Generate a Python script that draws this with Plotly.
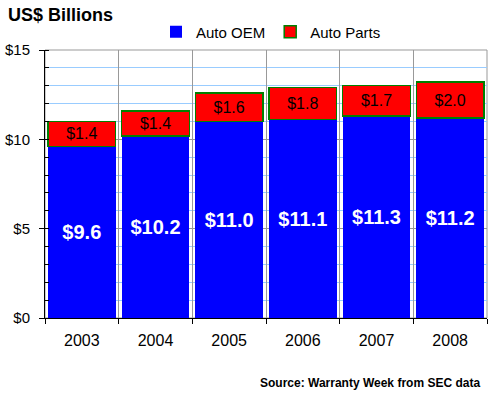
import plotly.graph_objects as go

years = ["2003", "2004", "2005", "2006", "2007", "2008"]
auto_oem = [9.6, 10.2, 11.0, 11.1, 11.3, 11.2]
auto_parts = [1.4, 1.4, 1.6, 1.8, 1.7, 2.0]
y_ticks = [0, 5, 10, 15]
y_tick_labels = ["$0", "$5", "$10", "$15"]

FONT = "Arial, Liberation Sans, sans-serif"

fig = go.Figure()
fig.add_trace(go.Bar(
    x=years, y=auto_oem, name="Auto OEM",
    marker=dict(color="#0000FF", line=dict(width=0)),
    texttemplate="$%{y:.1f}", textposition="inside", insidetextanchor="middle",
    textangle=0,
    textfont=dict(color="white", size=20, family=FONT, weight="bold"),
    hoverinfo="skip",
))
fig.add_trace(go.Bar(
    x=years, y=auto_parts, name="Auto Parts",
    marker=dict(color="#FF0000", line=dict(color="#008000", width=1.5)),
    texttemplate="$%{y:.1f}", textposition="inside", insidetextanchor="middle",
    textangle=0,
    textfont=dict(color="black", size=16, family=FONT),
    hoverinfo="skip",
))

fig.update_layout(
    barmode="stack",
    bargap=0.08,
    width=500, height=395,
    margin=dict(l=45, r=13, t=50, b=77, autoexpand=False),
    paper_bgcolor="white", plot_bgcolor="white",
    font=dict(family=FONT, color="black", size=15),
    title=dict(text="<b>US$ Billions</b>", x=0.016, xanchor="left", xref="container",
               y=1 - 15 / 395, yanchor="middle", yref="container",
               font=dict(size=18, family=FONT, color="black")),
    legend=dict(orientation="h", x=0.5 + 5 / 442, xanchor="center", y=1.067, yanchor="middle",
                traceorder="normal",
                font=dict(size=15, family=FONT), bgcolor="rgba(0,0,0,0)",
                itemclick=False, itemdoubleclick=False),
    xaxis=dict(
        type="category", tickson="boundaries", ticks="outside", ticklen=5,
        tickcolor="black", showline=True, linecolor="black", linewidth=1,
        showgrid=True, gridcolor="#999999", gridwidth=1, automargin=False,
        tickfont=dict(size=16, family=FONT), ticklabelstandoff=8,
    ),
    yaxis=dict(
        range=[0, 15], tickvals=y_ticks, ticktext=y_tick_labels,
        ticks="outside", ticklen=5, tickcolor="black", automargin=False,
        showline=True, linecolor="black", linewidth=1,
        showgrid=True, gridcolor="#999999", gridwidth=1, zeroline=False,
        tickfont=dict(size=15, family=FONT), ticklabelstandoff=6,
        minor=dict(dtick=1, ticks="inside", ticklen=4, tickcolor="black",
                   showgrid=True, gridcolor="#99CCFF", gridwidth=1),
    ),
    shapes=[dict(type="rect", xref="paper", yref="paper", x0=0, x1=1, y0=0, y1=1,
                 line=dict(color="#999999", width=1), layer="below")],
    annotations=[dict(text="<b>Source: Warranty Week from SEC data</b>",
                      xref="paper", yref="paper", x=(482 - 45) / 442, xanchor="right",
                      y=(318 - 383) / 268, yanchor="middle", showarrow=False,
                      font=dict(size=12, family=FONT, color="black"))],
)

fig.write_html("out.html", config={"displayModeBar": False})

# remove the default 8px body margin so the 500x395 figure fills the window exactly
with open("out.html", encoding="utf-8") as f:
    html = f.read()
html = html.replace("<head>", "<head><style>html,body{margin:0;padding:0;overflow:hidden;}</style>", 1)
with open("out.html", "w", encoding="utf-8") as f:
    f.write(html)
